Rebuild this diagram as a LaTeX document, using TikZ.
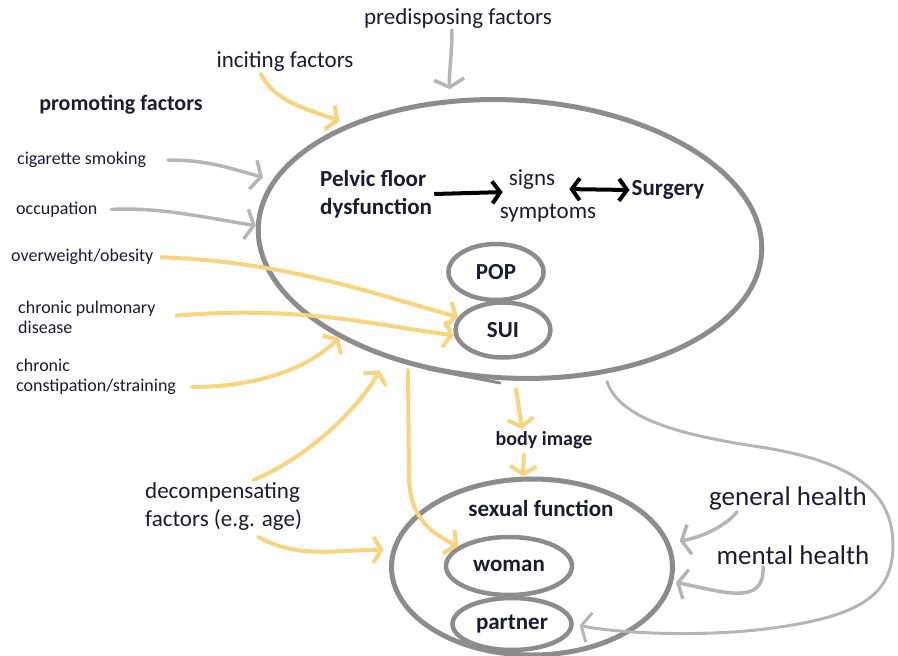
\documentclass[tikz,border=0pt]{standalone}
\usepackage{fontspec}
\setmainfont{Carlito}
\usepackage{tikz}
\usetikzlibrary{arrows.meta,shapes.geometric}
\definecolor{pencilGray}{HTML}{8C8C8C}
\definecolor{arrowGray}{HTML}{B5B5B5}
\definecolor{markerYellow}{HTML}{F8D47C}
\definecolor{inkNavy}{HTML}{1C1C30}

\begin{document}
\begin{tikzpicture}[x=1pt,y=-1pt,
  ring/.style={ellipse,draw=pencilGray,line width=4.5pt,inner sep=0pt,text=inkNavy,font=\fontsize{23}{28}\selectfont\bfseries},
  lbl/.style={text=inkNavy,inner sep=2pt,font=\fontsize{23}{28}\selectfont},
  lblbold/.style={lbl,font=\fontsize{23}{28}\selectfont\bfseries},
  lblbig/.style={lbl,font=\fontsize{27}{32}\selectfont},
  lblsmall/.style={text=inkNavy,inner sep=2pt,align=left,font=\fontsize{18}{20}\selectfont},
  yelarr/.style={draw=markerYellow,line width=4pt,line cap=round,->,>={Straight Barb[length=8pt,width=26pt]}},
  grayarr/.style={draw=arrowGray,line width=3.5pt,line cap=round,->,>={Straight Barb[length=8pt,width=30pt]}},
  inkarr/.style={draw=black,line width=4pt,>={Straight Barb[length=8pt,width=22pt]}}]
\useasboundingbox (0,0) rectangle (898,656);
% 1) ellipses
\node[ring,minimum width=504pt,minimum height=278pt,rotate=-3,line width=5pt] (pfd) at (510,239) {};
\node[ring,minimum width=95pt,minimum height=56pt] (pop) at (496,272) {POP};
\node[ring,minimum width=95pt,minimum height=55pt] (sui) at (503,330) {SUI};
\node[ring,minimum width=281pt,minimum height=176pt,line width=5pt] (sexfn) at (532,567) {};
\node[ring,minimum width=126pt,minimum height=58pt] (woman) at (509,566) {woman};
\node[ring,minimum width=119pt,minimum height=52pt] (partner) at (512,624) {partner};
\draw[pencilGray,line width=3pt,line cap=round] (428,369) -- (500,383);
% 2) labels
\node[lbl] (predisp) at (458,18) {predisposing factors};
\node[lbl] (inciting) at (285,62) {inciting factors};
\node[lbl,font=\fontsize{22}{26}\selectfont\bfseries] (promoting) at (121,105) {promoting factors};
\node[lblsmall,anchor=west] (smoking) at (15,160) {cigarette smoking};
\node[lblsmall,anchor=west] (occup) at (14,210) {occupation};
\node[lblsmall,anchor=west] (obesity) at (9,257) {overweight/obesity};
\node[lblsmall,anchor=west] (pulmo) at (16,317) {chronic pulmonary\\disease};
\node[lblsmall,anchor=west] (constip) at (14,377) {chronic\\constipation/straining};
\node[lbl,anchor=west,align=left] (decomp) at (143,506) {decompensating\\factors (e.g. age)};
\node[lblbold,anchor=west,align=left] (pelvic) at (318,194) {Pelvic floor\\dysfunction};
\node[lbl] (signs) at (532,180) {signs};
\node[lbl] (sympt) at (548,213) {symptoms};
\node[lblbold] (surgery) at (668,190) {Surgery};
\node[lbl,font=\fontsize{20}{24}\selectfont\bfseries] (body) at (544,440) {body image};
\node[lblbold] (sexlbl) at (541,508) {sexual function};
\node[lblbig] (general) at (788,498) {general health};
\node[lblbig] (mental) at (793,555) {mental health};
% 3) black arrows
\draw[inkarr,->] (pelvic.east) -- ([xshift=-4pt]signs.south west);
\draw[inkarr,<->] ([xshift=12pt,yshift=3pt]signs.south east) -- (surgery.west);
% 4) factor arrows
\draw[grayarr,shorten >=10pt] ([xshift=-6pt]predisp.south) .. controls +(0,25) and +(-2,-25) .. (pfd.116);
\draw[yelarr,shorten >=8pt] ([xshift=-24pt]inciting.south) .. controls +(15,30) and +(-35,-15) .. (pfd.148);
\draw[grayarr,shorten <=20pt,shorten >=10pt] (smoking.east) .. controls +(60,0) and +(-45,-12) .. (pfd.169);
\draw[grayarr,shorten <=12pt] (occup.east) .. controls +(60,-3) and +(-50,-8) .. (pfd.180);
\draw[yelarr,shorten <=6pt] (obesity.east) .. controls +(130,5) and +(-90,-25) .. (sui.164);
\draw[yelarr,shorten <=19pt] (pulmo.east) .. controls +(150,-12) and +(-70,-8) .. (sui.186);
\draw[yelarr,shorten <=14pt] ([yshift=-10pt]constip.east) .. controls +(80,0) and +(-30,30) .. (pfd.213);
\draw[yelarr,shorten >=14pt] ([xshift=30pt]decomp.north) .. controls +(60,-25) and +(-25,45) .. (pfd.227);
\draw[yelarr,shorten >=8pt] ([xshift=35pt,yshift=-5pt]decomp.south) .. controls +(40,22) and +(-55,0) .. (sexfn.173);
% 5) towards sexual function
\draw[yelarr,shorten <=5pt] (pfd.234) -- ++(1,110) .. controls +(0,40) and +(-30,-15) .. (woman.159);
\draw[yelarr,shorten <=9pt] (pfd.275) .. controls +(2,15) and +(-2,-15) .. ([xshift=-22pt]body.north);
\draw[yelarr,shorten <=4pt] ([xshift=-20pt]body.south) -- ([xshift=-9pt]sexfn.north);
\draw[grayarr,shorten >=10pt] ([xshift=-51pt]general.south) .. controls +(-12,15) and +(30,-5) .. (sexfn.10);
\draw[grayarr,shorten >=3pt] ([xshift=-30pt]mental.south) .. controls +(2,40) and +(50,10) .. (sexfn.354);
\draw[grayarr,line width=3pt,shorten <=8pt,shorten >=6pt] (pfd.308) .. controls +(15,45) and +(-80,-12) .. (760,447)
  .. controls +(90,14) and +(0,-55) .. (893,545) .. controls +(0,50) and +(80,-12) .. (780,627)
  .. controls +(-80,12) and +(35,8) .. (partner.east);
\end{tikzpicture}
\end{document}
